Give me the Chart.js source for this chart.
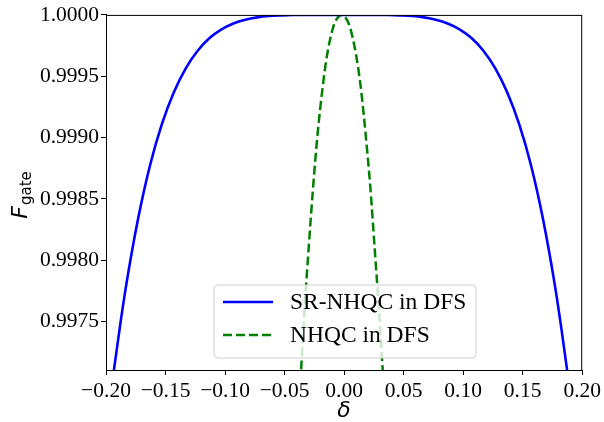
<!DOCTYPE html>
<html>
<head>
<meta charset="utf-8">
<script src="https://cdn.jsdelivr.net/npm/chart.js@4/dist/chart.umd.min.js"></script>
<style>
  html,body{margin:0;padding:0;background:#fff;overflow:hidden;}
  canvas{display:block;}
</style>
</head>
<body>
<canvas id="fid" width="604" height="422"></canvas>
<script>
// Data
const srDelta = [-0.198,-0.193,-0.188,-0.183,-0.173,-0.163,-0.153,-0.143,-0.133,-0.123,-0.113,-0.103,-0.093,-0.083,-0.073,-0.063,-0.053,-0.043,-0.023,-0.003,0.017,0.037,0.047,0.057,0.067,0.077,0.087,0.097,0.107,0.117,0.127,0.137,0.147,0.157,0.167,0.177,0.182,0.187,0.192];
const srFid   = [0.996740,0.997130,0.997480,0.997800,0.998340,0.998775,0.999112,0.999370,0.999565,0.999708,0.999811,0.999882,0.999930,0.999961,0.999980,0.999991,0.999996,0.999999,1.0,1.0,1.0,0.999999,0.999996,0.999991,0.999980,0.999961,0.999930,0.999882,0.999811,0.999708,0.999565,0.999370,0.999112,0.998775,0.998340,0.997800,0.997480,0.997130,0.996740];
const nhDelta = [-0.0375,-0.0361,-0.033,-0.0296,-0.026,-0.0224,-0.018,-0.0144,-0.0088,-0.005,-0.002,0.001,0.0046,0.0102,0.014,0.0182,0.022,0.0255,0.029,0.0324,0.034];
const nhFid   = [0.9969,0.99711,0.997636,0.998122,0.9986,0.999016,0.999411,0.999667,0.999911,0.999982,1.0,0.999982,0.999911,0.999667,0.999411,0.999016,0.9986,0.998122,0.997636,0.99711,0.99682];
const xTicks = [-0.20,-0.15,-0.10,-0.05,0.00,0.05,0.10,0.15,0.20];
const yTicks = [0.9975,0.9980,0.9985,0.9990,0.9995,1.0000];
const labels = ["SR-NHQC in DFS","NHQC in DFS"];

const serif = "'Liberation Serif','Times New Roman',serif";
const sans = "'DejaVu Sans',sans-serif";

function pts(xs,ys){ return xs.map((x,i)=>({x:x,y:ys[i]})); }
function fmt(v,d){ const s=Math.abs(v).toFixed(d); return (v < -1e-9 ? "\u2212" : "") + s; }

// frame, axis titles, legend
const decor = {
  id:"decor",
  afterDatasetsDraw(chart){
    const ctx = chart.ctx, a = chart.chartArea;
    ctx.save();
    ctx.strokeStyle = "#000"; ctx.lineWidth = 1;
    ctx.strokeRect(a.left+0.5, a.top+0.5, a.right-a.left-1, a.bottom-a.top);

    // legend
    const bx=214, by=285, bw=262, bh=73, r=4;
    ctx.beginPath();
    ctx.moveTo(bx+r,by); ctx.arcTo(bx+bw,by,bx+bw,by+bh,r); ctx.arcTo(bx+bw,by+bh,bx,by+bh,r);
    ctx.arcTo(bx,by+bh,bx,by,r); ctx.arcTo(bx,by,bx+bw,by,r); ctx.closePath();
    ctx.fillStyle = "rgba(255,255,255,0.8)"; ctx.fill();
    ctx.strokeStyle = "#d0d0d0"; ctx.lineWidth = 1; ctx.stroke();
    chart.data.datasets.forEach((ds,i)=>{
      const ly = 302 + i*33;
      ctx.beginPath();
      ctx.setLineDash(ds.borderDash || []);
      ctx.strokeStyle = ds.borderColor; ctx.lineWidth = ds.borderWidth;
      ctx.moveTo(223,ly); ctx.lineTo(273,ly); ctx.stroke();
      ctx.setLineDash([]);
      ctx.fillStyle = "#000"; ctx.font = "23.5px " + serif;
      ctx.textBaseline = "middle"; ctx.textAlign = "left";
      ctx.fillText(ds.label, 290, ly+1);
    });

    // x title
    ctx.fillStyle = "#000";
    ctx.font = "italic 22px " + sans;
    ctx.textAlign = "center"; ctx.textBaseline = "alphabetic";
    ctx.fillText("\u03b4", (a.left+a.right)/2, 417);

    // y title F_gate
    ctx.translate(27, 195);
    ctx.rotate(-Math.PI/2);
    ctx.textAlign = "left";
    ctx.font = "italic 22px " + sans;
    const fw = ctx.measureText("F").width;
    ctx.font = "15px " + sans;
    const gw = ctx.measureText("gate").width;
    const x0 = -(fw + gw + 1)/2;
    ctx.font = "italic 22px " + sans;
    ctx.fillText("F", x0, 0);
    ctx.font = "15px " + sans;
    ctx.fillText("gate", x0 + fw + 1, 4);
    ctx.restore();
  }
};

new Chart(document.getElementById("fid"),{
  type:"line",
  data:{
    datasets:[
      {label:labels[0], data:pts(srDelta,srFid), borderColor:"#0000ff", borderWidth:2.6,
       pointRadius:0, fill:false, cubicInterpolationMode:"monotone"},
      {label:labels[1], data:pts(nhDelta,nhFid), borderColor:"#008000", borderWidth:2.5,
       borderDash:[9,4], pointRadius:0, fill:false, cubicInterpolationMode:"monotone"}
    ]
  },
  options:{
    responsive:false, animation:false, devicePixelRatio:1,
    layout:{padding:{left:0,right:19,top:14,bottom:0}},
    plugins:{legend:{display:false}, tooltip:{enabled:false}},
    scales:{
      x:{
        type:"linear", min:-0.2, max:0.2,
        afterBuildTicks:s=>{ s.ticks = xTicks.map(v=>({value:v})); },
        afterFit:s=>{ s.height = 52; },
        grid:{display:true, drawOnChartArea:false, drawTicks:true, tickLength:5, color:"#000", tickWidth:1},
        border:{display:true, color:"#000", width:1},
        ticks:{color:"#000", padding:3, maxRotation:0, autoSkip:false,
               font:{family:serif, size:21.5}, callback:v=>fmt(v,2)}
      },
      y:{
        type:"linear", min:0.997106, max:1.0,
        afterBuildTicks:s=>{ s.ticks = yTicks.map(v=>({value:v})); },
        afterFit:s=>{ s.width = 106; },
        grid:{display:true, drawOnChartArea:false, drawTicks:true, tickLength:5, color:"#000", tickWidth:1},
        border:{display:true, color:"#000", width:1},
        ticks:{color:"#000", padding:2, autoSkip:false,
               font:{family:serif, size:21.5}, callback:v=>fmt(v,4)}
      }
    }
  },
  plugins:[decor]
});
</script>
</body>
</html>
